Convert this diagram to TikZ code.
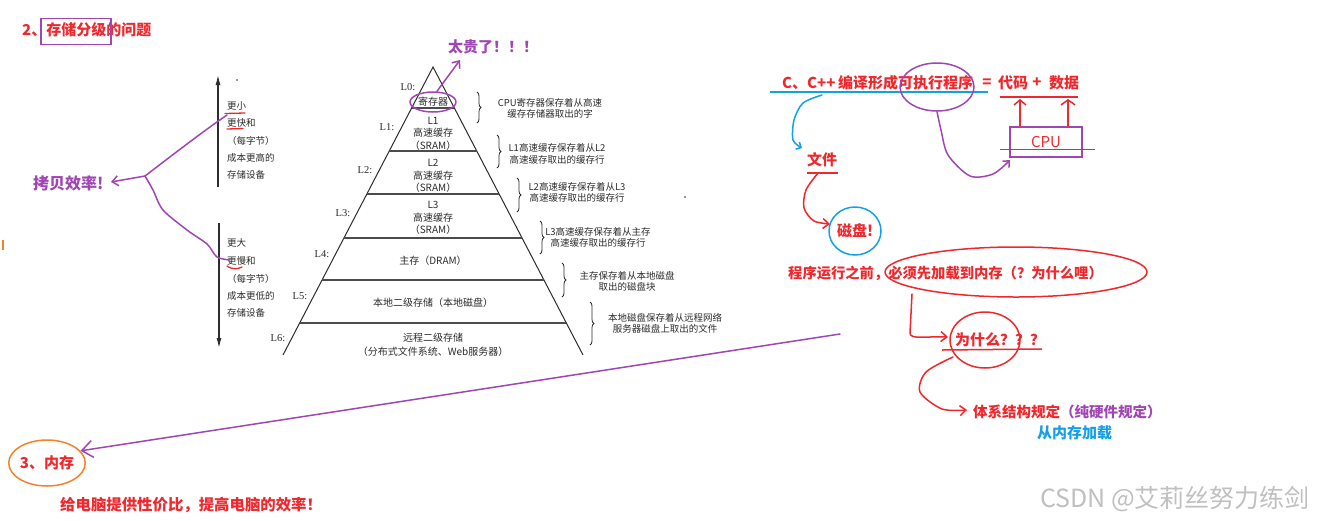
\documentclass[tikz,border=0pt]{standalone}
\usepackage{fontspec}
\newfontfamily\cjk{Noto Sans CJK SC}
\newfontfamily\serif{Liberation Serif}
\usetikzlibrary{arrows.meta,decorations.pathreplacing,calc,shapes.geometric}
\definecolor{rd}{RGB}{240,40,45}
\definecolor{pp}{RGB}{160,70,180}
\definecolor{bl}{RGB}{20,160,230}
\definecolor{og}{RGB}{245,130,40}
\definecolor{ink}{RGB}{45,45,45}
\definecolor{wm}{RGB}{192,192,192}
\tikzset{
  note/.style={font=\cjk\bfseries\fontsize{15}{18}\selectfont, inner sep=0pt},
  rednote/.style={note, text=rd},
  ppnote/.style={note, text=pp},
  blnote/.style={note, text=bl},
  pyr/.style={font=\cjk\fontsize{10}{12.5}\selectfont, text=ink, inner sep=0pt, align=center},
  pyrlab/.style={font=\serif\fontsize{10.5}{12}\selectfont, text=ink, inner sep=0pt},
  side/.style={font=\cjk\fontsize{9.5}{11.5}\selectfont, text=ink, inner sep=0pt, align=center},
  col/.style={font=\cjk\fontsize{9.5}{11}\selectfont, text=ink, inner sep=0pt, anchor=west},
  pyrline/.style={draw=ink, line width=1pt},
  divline/.style={draw=ink!85, line width=1.3pt},
  bracestyle/.style={draw=ink, line width=0.8pt, decorate, decoration={brace, amplitude=4pt}},
  pen/.style={line width=1.5pt, line cap=round, line join=round},
  barb/.style={-{Straight Barb[length=6pt,width=10pt,line width=1.5pt]}},
  ring/.style={ellipse, pen, inner sep=0pt},
}
\begin{document}
\begin{tikzpicture}[x=1pt,y=-1pt]
\useasboundingbox (0,0) rectangle (1319,520);
\fill[white] (0,0) rectangle (1319,520);

% ---------- title ----------
\node[rednote, anchor=west] (title) at (22,30) {2、存储分级的问题};
\node[draw=pp, line width=1.5pt, minimum width=70, minimum height=26, inner sep=0pt] (titlebox) at (76,31.5) {};

% ---------- pyramid ----------
\coordinate (apex) at (433,67);
\coordinate (pbl) at (283,355);
\coordinate (pbr) at (583,355);
\draw[pyrline] (pbl) -- (apex) -- (pbr);
\foreach \y/\d in {108/21.35,151/43.75,194/66.15,238/89.06,280/110.94,323/133.33}
  \draw[divline] (433-\d,\y) -- (433+\d,\y);
\foreach \t/\x/\y [count=\i] in {L0:/408/87, L1:/387/127, L2:/365/170, L3:/343/213, L4:/322/254, L5:/300/296, L6:/278/338}
  \node[pyrlab] (lab\i) at (\x,\y) {\t};
\node[ring, draw=pp, pyr, minimum width=46, minimum height=20] (reg) at (433,102) {寄存器};
\node[pyr] (l1) at (433,133.5) {L1\\高速缓存\\（SRAM）};
\node[pyr] (l2) at (433,176) {L2\\高速缓存\\（SRAM）};
\node[pyr] (l3) at (433,218) {L3\\高速缓存\\（SRAM）};
\node[pyr] (l4) at (433,261) {主存（DRAM）};
\node[pyr] (l5) at (433,303) {本地二级存储（本地磁盘）};
\node[pyr, font=\cjk\fontsize{10}{14}\selectfont] (l6) at (433,345) {远程二级存储\\（分布式文件系统、Web服务器）};

% braces and notes
\draw[bracestyle] (477,92) -- (477,123);
\draw[bracestyle] (497,135) -- (497,168);
\draw[bracestyle] (517,178) -- (517,212);
\draw[bracestyle] (540,221) -- (540,254);
\draw[bracestyle] (562,263) -- (562,297);
\draw[bracestyle] (590,302) -- (590,345);
\node[side] (s0) at (550,108.5) {CPU寄存器保存着从高速\\缓存存储器取出的字};
\node[side] (s1) at (557,154) {L1高速缓存保存着从L2\\高速缓存取出的缓存行};
\node[side] (s2) at (577,192.5) {L2高速缓存保存着从L3\\高速缓存取出的缓存行};
\node[side] (s3) at (598,237.5) {L3高速缓存保存着从主存\\高速缓存取出的缓存行};
\node[side] (s4) at (627,281.5) {主存保存着从本地磁盘\\取出的磁盘块};
\node[side] (s5) at (665,323.5) {本地磁盘保存着从远程网络\\服务器磁盘上取出的文件};
\fill[ink] (685,197) circle (0.8);

% ---------- left column ----------
\coordinate (upb) at (218,187);
\coordinate (upt) at (218,75);
\coordinate (dnt) at (219,223);
\coordinate (dnb) at (219,348);
\draw[ink, line width=1.2pt, -{Latex[length=10pt,width=5pt]}] (upb) -- (upt);
\draw[ink, line width=1.2pt, -{Latex[length=10pt,width=5pt]}] (dnt) -- (dnb);
\fill[ink] (237,80) circle (0.8);
\foreach \t/\y [count=\i] in {更小/106, 更快和/123, （每字节）/140.5, 成本更高的/158, 存储设备/175}
  \node[col] (u\i) at (227,\y) {\t};
\foreach \t/\y [count=\i] in {更大/243, 更慢和/261, （每字节）/279, 成本更低的/296, 存储设备/313}
  \node[col] (d\i) at (227,\y) {\t};
\draw[rd, line width=1.3pt, line cap=round] (225,113.5) -- (245,113);
\draw[rd, line width=1.3pt, line cap=round] (227,129) -- (243,128.5);
\draw[rd, line width=1.3pt, line cap=round] (227,266) .. controls (233,270) and (238,269) .. (242,267);

% copy efficiency
\node[ppnote, anchor=west, font=\cjk\bfseries\fontsize{16}{18}\selectfont] (kb) at (33,183) {拷贝效率!};
\coordinate (brn) at (145,176);
\draw[pp, pen, barb] (brn) -- (111,182);
\draw[pp, pen] (brn) .. controls (175,153) and (205,130) .. (227,115);
\draw[pp, pen] plot[smooth] coordinates {(brn) (153,190) (163,210) (187,230) (207,244) (217,257) (230,260)};
\draw[og, line width=2pt] (3,240) -- (3,250);

% too expensive
\node[ppnote, anchor=west] (tg) at (448,47) {太贵了！！！};
\coordinate (tgtip) at (460,60);
\draw[pp, pen, barb] (reg.70) -- (tgtip);

% ---------- memory ----------
\node[ring, draw=og, text=rd, note, minimum width=68, minimum height=46] (nc) at (47,463) {3、内存};
\node[rednote, anchor=west, font=\cjk\bfseries\fontsize{15.4}{17}\selectfont] (jg) at (60,505) {给电脑提供性价比，提高电脑的效率！};
\coordinate (longstart) at (840,334);
\draw[pp, pen, -{Straight Barb[length=11pt,width=17pt,line width=1.5pt]}] (longstart) -- (nc.20);

% ---------- right side ----------
\node[rednote, anchor=west] (cppa) at (782,83) {C、C++};
\node[rednote, anchor=west] (cppb) at (838,83) {编译形成可执行程序};
\node[rednote] (cppc) at (987,83) {=};
\node[rednote, anchor=west] (cppd) at (998,83) {代码};
\node[rednote] (cppe) at (1037,83) {+};
\node[rednote, anchor=west] (cppf) at (1049,83) {数据};
\coordinate (bu1) at (770,92); \coordinate (bu2) at (988,92);
\draw[bl, line width=1.8pt] (bu1) -- (bu2);
\coordinate (ru1) at (1000,97); \coordinate (ru2) at (1078,97);
\draw[rd, line width=1.5pt] (ru1) -- (ru2);
\node[ring, draw=pp, minimum width=74, minimum height=48] (kzx) at (937,87) {};
\node[draw=pp, line width=1.5pt, minimum width=72, minimum height=30, inner sep=0pt] (cpu) at (1046,142) {};
\node[text=rd, font=\cjk\fontsize{15}{18}\selectfont, inner sep=0pt] (cputxt) at (1046,142) {CPU};
\draw[rd, line width=1.5pt] (1000,149.5) -- (1095,149.5);
\draw[rd, pen, -{Straight Barb[length=5pt,width=12pt,line width=1.5pt]}] (cpu.north west -| 1020,0) -- (1020,99);
\draw[rd, pen, -{Straight Barb[length=5pt,width=14pt,line width=1.5pt]}] (cpu.north west -| 1068,0) -- (1068,99);
\draw[pp, pen, -{Straight Barb[length=5pt,width=9pt,line width=1.5pt]}] plot[smooth] coordinates {(kzx.south) (941,130) (948,155) (970,176) (993,174) (1010,160)};

\draw[bl, pen, -{Straight Barb[length=4pt,width=8pt,line width=1.5pt]}] plot[smooth] coordinates {(822,95) (803,103) (794,120) (793,140) (802,148)};
\node[rednote] (wj) at (822,160) {文件};
\draw[rd, line width=1.5pt] (807,173) -- (838,173);
\node[ring, draw=bl, minimum width=52, minimum height=48, text=rd, note] (cp) at (855,231) {磁盘!};
\draw[rd, pen, barb] plot[smooth] coordinates {(818,173) (806,190) (804,208) (814,221) (830,224)};

\node[rednote, anchor=west, font=\cjk\bfseries\fontsize{14.3}{17}\selectfont] (run) at (788,273) {程序运行之前，必须先加载到内存（？为什么哩）};
\node[ring, draw=rd, minimum width=262, minimum height=50] (bx) at (1016,272) {};
\node[rednote, anchor=west] (wsm) at (955,340) {为什么？？？};
\node[ring, draw=rd, minimum width=70, minimum height=56] (wsmc) at (985,340) {};
\draw[rd, line width=1.5pt] (942,350) -- (1042,349);
\draw[rd, pen, barb] (912,294) -- (910,333) .. controls (909,340) and (930,336) .. (948,337);
\draw[rd, pen, barb] plot[smooth] coordinates {(953,357) (926,372) (920,392) (942,409) (967,410)};
\node[rednote, anchor=west, font=\cjk\bfseries\fontsize{14.5}{17}\selectfont] (tx) at (973,412) {体系结构规定\textcolor{pp}{（纯硬件规定）}};
\node[blnote, anchor=west] (cnc) at (1037,433) {从内存加载};

% watermark
\node[anchor=west, text=wm, font=\cjk\fontsize{25}{28}\selectfont, inner sep=0pt] (wmk) at (1040,499) {CSDN @艾莉丝努力练剑};
\end{tikzpicture}
\end{document}
